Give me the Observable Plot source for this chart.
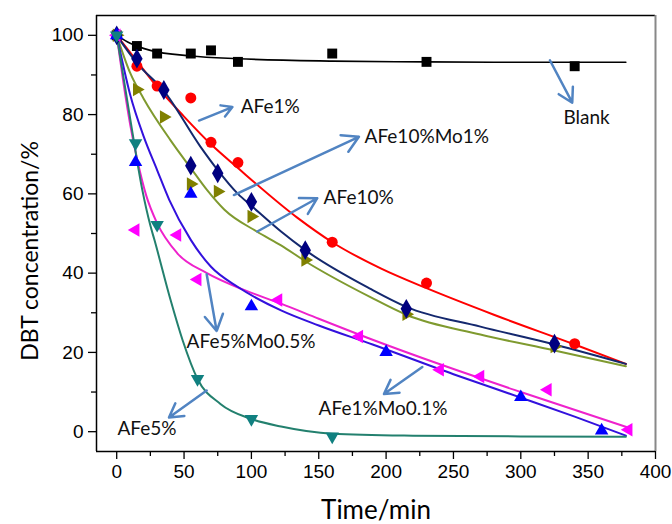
<!DOCTYPE html>
<html><head><meta charset="utf-8">
<script src="https://cdn.jsdelivr.net/npm/d3@7"></script>
<script src="https://cdn.jsdelivr.net/npm/@observablehq/plot@0.6"></script>
<style>body{margin:0;background:#fff}</style>
</head><body><div id="chart"></div>
<script>
// ---- measured points (markers) ----
const blankT = [0,15,30,55,70,90,160,230,340];
const blankC = [100,97.3,95.4,95.4,96.2,93.3,95.4,93.3,92.2];
const afe1T = [0,15,30,55,70,90,160,230,340];
const afe1C = [100,92.2,87.2,84.2,73,67.9,47.8,37.5,22.2];
const afe10mo1T = [0,15,35,55,75,100,140,215,325];
const afe10mo1C = [100,94.1,86.2,67.1,65.2,58,45.8,31,22.2];
const afe10T = [0,15,35,55,75,100,140,215,325];
const afe10C = [100,86.3,79.4,62.5,60.6,54.3,43.3,29.6,21.5];
const afe1mo01T = [0,14,55,100,200,300,360];
const afe1mo01C = [100,68,60,31.6,20.1,8.7,0.3];
const afe5mo05T = [0,14,45,60,120,180,240,270,320,380];
const afe5mo05C = [100,50.9,49.6,38.4,33.2,24,15.6,13.9,10.6,0.5];
const afe5T = [0,14,30,60,100,160];
const afe5C = [100,72.8,52.2,13.3,3.2,-1.2];

// ---- fitted curves ----
const blankFitT = [0,10,25,55,90,160,230,300,378];
const blankFitC = [100,98,96.2,94.8,94.1,93.5,93.3,93.2,93.2];
const afe1FitT = [0,15,28,50,70,90,134,160,196,230,280,340,378];
const afe1FitC = [100,93.5,87.8,79.5,72.5,66.5,54,47.8,41.2,36.2,29.5,22,17.1];
const afe10mo1FitT = [0,15,35,62,75,90,100,122,140,188,215,270,325,378];
const afe10mo1FitC = [100,93,86,72,66,60,57,50.5,45.8,36.1,31.5,26.5,22,17.1];
const afe10FitT = [0,10,20,40,55,67,80,104,122,140,188,215,270,325,378];
const afe10FitC = [100,90.5,84,73.5,66.5,61,56,50.5,47,43,34,29.5,24.5,20.5,16.5];
const afe1mo01FitT = [0,10,20,30,39,55,70,90,122,150,190,250,300,340,378];
const afe1mo01FitC = [100,85,74.5,66,58.5,48.4,41.6,36.5,30.6,26.8,22,14.5,8.6,3.8,-1];
const afe5mo05FitT = [0,5,10,15,22,30,45,67,95,122,150,190,240,300,379];
const afe5mo05FitC = [100,88,77.5,69,59.5,52.6,45,40,35.7,32.3,28.5,23.2,17,10,1.1];
const afe5FitT = [0,10,19,25,28,40,49,60,77,100,122,160,220,300,378];
const afe5FitC = [100,79,61,52,48.4,33.2,23,13.3,7,3.2,1.3,-0.5,-1,-1.2,-1.3];

// ---- ticks ----
const xMajor = [0,50,100,150,200,250,300,350,400];
const xMinor = [25,75,125,175,225,275,325,375];
const yMajor = [0,20,40,60,80,100];
const yMinor = [10,30,50,70,90];

// ---- annotations ----
const labels = ["AFe1%","AFe10%Mo1%","AFe10%","Blank","AFe5%Mo0.5%","AFe1%Mo0.1%","AFe5%"];
const labelX = [92,184,153.6,331.7,51.9,149.9,0.5];
const labelY = [82,74.4,59,79.2,22.6,5.7,0.7];
const arrowX1 = [61.1,87.0,104.4,321.6,66.8,226.9,66.8];
const arrowY1 = [78.5,59.7,50.5,93.7,39.7,16.3,10.4];
const arrowX2 = [85.9,179.8,148.9,338.2,74.2,198.4,38.8];
const arrowY2 = [81.9,74.4,58.9,83.0,25.4,9.5,3.6];

function tri(angle) {
  return {draw(ctx, size) {
    const y = -Math.sqrt(size / (Math.sqrt(3) * 3));
    const pts = [[0, y * 2], [-Math.sqrt(3) * y, -y], [Math.sqrt(3) * y, -y]];
    const a = angle * Math.PI / 180, c = Math.cos(a), s = Math.sin(a);
    pts.forEach(([px, py], i) => {
      const X = px * c - py * s, Y = px * s + py * c;
      if (i) ctx.lineTo(X, Y); else ctx.moveTo(X, Y);
    });
    ctx.closePath();
  }};
}

const line = (T, C, stroke, w = 2) => Plot.line(T, {x: T, y: C, stroke, strokeWidth: w, curve: "monotone-x"});
const dots = (T, C, fill, symbol, r) => Plot.dot(T, {x: T, y: C, fill, symbol, r, stroke: "none"});

const tickFont = "Liberation Sans, Arial, sans-serif";
const textFont = "Lato, Carlito, Calibri, sans-serif";

const chart = Plot.plot({
  width: 672, height: 524,
  marginLeft: 96, marginRight: 17, marginTop: 15, marginBottom: 73,
  x: {domain: [-15, 400]},
  y: {domain: [-5, 105]},
  style: {fontFamily: tickFont, background: "#fff"},
  marks: [
    // frame
    Plot.ruleY([105], {stroke: "#000", strokeWidth: 1.5}),
    Plot.ruleX([400], {stroke: "#888", strokeWidth: 2}),
    Plot.ruleX([-15], {stroke: "#000", strokeWidth: 1.5}),
    Plot.ruleY([-5], {stroke: "#000", strokeWidth: 1.5}),
    Plot.axisX(xMajor, {tickSize: 8, tickPadding: 5, fontSize: 19, label: null, strokeWidth: 1.3}),
    Plot.axisX(xMinor, {tickSize: 5, text: null, label: null, strokeWidth: 1.3}),
    Plot.axisY(yMajor, {tickSize: 8, tickPadding: 5, fontSize: 19, label: null, strokeWidth: 1.3}),
    Plot.axisY(yMinor, {tickSize: 5, text: null, label: null, strokeWidth: 1.3}),
    // curves
    line(blankFitT, blankFitC, "#000", 1.6),
    line(afe1FitT, afe1FitC, "#ff0000"),
    line(afe10FitT, afe10FitC, "#7f9a2f"),
    line(afe10mo1FitT, afe10mo1FitC, "#14286e"),
    line(afe5mo05FitT, afe5mo05FitC, "#ee22cc"),
    line(afe1mo01FitT, afe1mo01FitC, "#3311dd"),
    line(afe5FitT, afe5FitC, "#23806e"),
    // markers
    dots(blankT, blankC, "#000", "square", 5.6),
    dots(afe1T, afe1C, "#ff0000", "circle", 5.5),
    dots(afe10T, afe10C, "#808000", tri(90), 5),
    dots(afe10mo1T, afe10mo1C, "#000080", "diamond", 6),
    dots(afe5mo05T, afe5mo05C, "#ff00ff", tri(-90), 5),
    dots(afe1mo01T, afe1mo01C, "#0000ff", "triangle", 5),
    dots(afe5T, afe5C, "#108080", tri(180), 5),
    // annotations
    Plot.arrow(labels, {x1: arrowX1, y1: arrowY1, x2: arrowX2, y2: arrowY2, stroke: "#5184c2", strokeWidth: 2.5, headLength: 11}),
    Plot.text(labels, {x: labelX, y: labelY, text: labels, textAnchor: "start", lineAnchor: "middle", fontSize: 19, fontFamily: textFont, fill: "#111"}),
    // axis titles
    Plot.text(["DBT concentration/%"], {x: () => -15, y: () => 45.6, text: d => d, rotate: -90, textAnchor: "middle", lineAnchor: "middle", dx: -66, fontSize: 23, fontFamily: textFont, fill: "#000"}),
    Plot.text(["Time/min"], {frameAnchor: "bottom", text: d => d, textAnchor: "middle", lineAnchor: "middle", dy: 59, fontSize: 26, fontFamily: textFont, fill: "#000"})
  ]
});
document.getElementById("chart").appendChild(chart);
</script>
</body></html>
